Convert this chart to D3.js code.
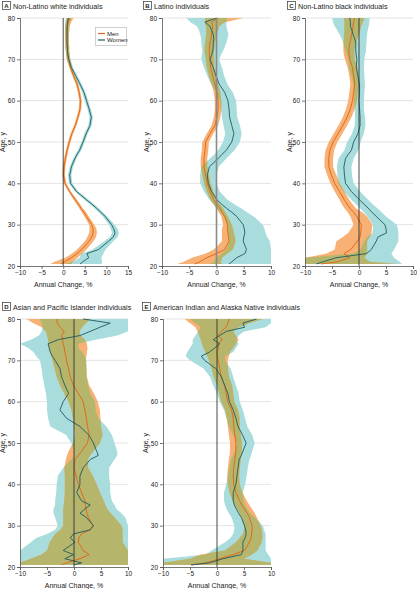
<!DOCTYPE html>
<html><head><meta charset="utf-8">
<script src="https://cdn.jsdelivr.net/npm/d3@7"></script>
<style>
body{margin:0;background:#fff}
svg{display:block}
text{font-family:"Liberation Sans Narrow","Arial Narrow","Liberation Sans",sans-serif;fill:#222}
</style>
</head><body>
<svg id="chart" width="417" height="589"></svg>
<script>
// ---------- DATA ----------
const ages = [20.5,21,22,23,24,26,27,28,29,30,32,33,34,35,36,38,40,42,44,46,47,48,50,52,54,56,58,60,62,64,66,68,70,71,72,73,74,75,76,77,78,79,80];
const yTicks = [20,30,40,50,60,70,80];
const xTicksA = [-10,-5,0,5,10,15];
const xTicksOther = [-10,-5,0,5,10];
const panelLetters = ["A","B","C","D","E"];
const panelTitles = ["Non-Latino white individuals","Latino individuals","Non-Latino black individuals","Asian and Pacific Islander individuals","American Indian and Alaska Native individuals"];
const seriesNames = ["Men","Women"];
const xAxisTitle = "Annual Change, %";
const yAxisTitle = "Age, y";

// Panel A
const aMenMean = [-0.5,0.3,1.9,3.2,4.3,6.0,6.6,6.9,6.9,6.6,5.4,4.8,4.1,3.5,2.8,1.5,0.4,0.1,0.2,0.5,0.7,0.9,1.4,2.0,2.8,3.4,3.9,4.0,3.7,3.2,2.4,1.7,1.2,1.1,1.0,0.95,0.9,0.85,0.85,0.9,1.0,1.2,1.6];
const aMenLo = [-3.0,-2.0,0.5,2.0,3.2,5.0,5.6,6.0,6.1,6.0,4.9,4.3,3.7,3.1,2.4,1.2,0.1,-0.2,-0.1,0.2,0.4,0.6,1.1,1.7,2.5,3.1,3.6,3.7,3.4,2.9,2.1,1.4,0.8,0.7,0.6,0.5,0.5,0.4,0.4,0.4,0.5,0.6,0.8];
const aMenHi = [1.8,2.3,3.3,4.4,5.4,7.0,7.6,7.8,7.7,7.2,5.9,5.3,4.5,3.9,3.2,1.8,0.7,0.4,0.5,0.8,1.0,1.2,1.7,2.3,3.1,3.7,4.2,4.3,4.0,3.5,2.7,2.0,1.6,1.5,1.4,1.4,1.3,1.3,1.3,1.4,1.5,1.8,2.4];
const aWomenMean = [3.9,4.5,5.9,5.5,8.2,10.5,11.6,12.0,11.7,11.2,9.7,8.7,7.7,6.6,5.4,3.1,1.7,1.5,1.9,2.7,3.2,3.8,4.6,5.3,6.2,6.5,6.0,5.4,4.8,3.9,2.9,1.9,1.3,1.1,1.0,0.95,0.9,0.9,0.9,0.9,0.9,1.0,1.2];
const aWomenLo = [0.3,2.2,3.8,4.2,6.8,9.5,10.8,11.3,11.0,10.6,9.2,8.2,7.2,6.1,4.9,2.7,1.3,1.1,1.5,2.3,2.8,3.4,4.2,4.9,5.8,6.1,5.6,5.0,4.4,3.5,2.5,1.5,0.9,0.7,0.6,0.5,0.5,0.5,0.5,0.4,0.4,0.5,0.6];
const aWomenHi = [8.9,9.0,8.8,9.3,9.8,11.6,12.6,12.9,12.6,11.9,10.2,9.2,8.2,7.1,5.9,3.5,2.1,1.9,2.3,3.1,3.6,4.2,5.0,5.7,6.6,6.9,6.4,5.8,5.2,4.3,3.3,2.3,1.7,1.5,1.4,1.4,1.3,1.3,1.3,1.4,1.4,1.5,1.8];

// Panel B
const bMenMean = [-4.0,-3.1,-1.8,0.0,1.5,2.3,2.2,2.1,2.0,2.0,1.5,1.0,0.6,0.0,-0.5,-1.2,-1.7,-2.0,-2.3,-2.3,-2.2,-2.1,-2.0,-1.2,-0.3,0.1,0.3,0.3,0.1,-0.3,-0.7,-1.1,-1.2,-1.3,-1.3,-1.3,-1.2,-1.0,-0.9,-0.8,-0.7,-0.9,0.3];
const bMenLo = [-7.2,-6.0,-4.5,-2.0,-0.5,1.0,1.0,1.0,1.0,1.2,0.9,0.4,0.0,-0.6,-1.1,-1.8,-2.3,-2.6,-2.9,-2.9,-2.8,-2.7,-2.6,-1.8,-0.9,-0.5,-0.3,-0.3,-0.5,-0.9,-1.4,-1.8,-2.0,-2.1,-2.2,-2.2,-2.1,-2.0,-1.9,-1.9,-1.9,-2.2,-2.0];
const bMenHi = [1.0,0.8,1.0,2.0,3.0,3.5,3.4,3.2,3.0,2.8,2.1,1.6,1.2,0.6,0.1,-0.6,-1.1,-1.4,-1.7,-1.7,-1.6,-1.5,-1.4,-0.6,0.3,0.7,0.9,0.9,0.7,0.3,0.0,-0.4,-0.4,-0.5,-0.4,-0.4,-0.3,-0.1,0.1,0.3,0.5,1.5,5.0];
const bWomenMean = [2.3,2.8,3.7,5.2,5.5,4.9,5.0,5.2,5.1,4.9,3.7,2.8,1.8,0.9,0.1,-0.9,-1.5,-1.7,-1.3,0.3,1.0,1.8,2.8,3.2,2.8,2.4,2.3,2.1,1.5,0.5,-0.1,-0.6,-1.2,-0.9,-0.7,-0.6,-0.6,-0.5,-0.6,-0.9,-1.2,-2.1,0.0];
const bWomenLo = [-1.2,-0.5,0.0,1.0,1.8,2.4,2.3,2.2,2.1,2.1,1.3,0.8,0.0,-0.6,-1.3,-2.3,-3.0,-3.0,-2.8,-1.2,-0.4,0.3,1.2,1.6,1.3,1.0,0.8,0.6,0.0,-1.0,-1.7,-2.3,-2.8,-2.7,-2.6,-2.7,-2.8,-2.8,-3.0,-3.2,-3.6,-4.8,-5.5];
const bWomenHi = [10,10,10,10,10,9.8,9.3,9.0,8.8,8.5,6.8,5.6,4.5,3.2,2.0,0.6,0.0,0.0,0.4,1.8,2.5,3.3,4.3,4.6,4.3,3.8,3.7,3.6,3.0,2.0,1.4,1.0,0.5,0.8,1.2,1.5,1.8,2.0,2.2,2.0,1.8,1.8,2.0];

// Panel C
const cMenMean = [-7.0,-4.0,-1.7,-2.8,-1.5,-0.3,0.2,0.3,0.4,0.4,-0.4,-1.0,-1.7,-2.2,-2.7,-3.6,-4.5,-5.1,-5.6,-5.6,-5.5,-5.4,-4.8,-3.9,-3.0,-2.2,-1.6,-1.2,-1.0,-0.8,-1.0,-1.2,-1.7,-1.8,-1.9,-1.8,-1.7,-1.5,-1.4,-1.2,-1.1,-1.0,-0.8];
const cMenLo = [-10,-10,-10,-6.0,-4.5,-4.2,-3.0,-2.0,-1.5,-1.0,-1.6,-2.1,-2.7,-3.2,-3.6,-4.5,-5.3,-5.9,-6.4,-6.4,-6.3,-6.2,-5.6,-4.7,-3.8,-3.0,-2.4,-2.0,-1.8,-1.6,-1.8,-2.1,-2.6,-2.8,-2.9,-2.9,-2.9,-2.8,-2.8,-2.7,-2.7,-2.7,-2.8];
const cMenHi = [7.0,2.0,1.0,1.5,1.5,1.5,2.0,2.3,2.4,2.5,1.5,0.6,-0.6,-1.2,-1.8,-2.7,-3.6,-4.2,-4.8,-4.8,-4.7,-4.6,-4.0,-3.1,-2.2,-1.4,-0.8,-0.4,-0.2,0.0,-0.2,-0.3,-0.8,-0.8,-0.9,-0.7,-0.5,-0.3,0.0,0.2,0.4,0.7,1.0];
const cWomenMean = [-7.9,-6.7,-4.2,1.4,2.3,3.2,3.5,5.1,5.0,4.8,3.2,2.4,1.7,0.9,0.1,-1.4,-2.5,-2.7,-2.8,-2.5,-2.0,-1.4,-1.0,-0.2,0.2,0.2,0.1,0.0,0.1,0.1,-0.2,-0.5,-0.4,-0.5,-0.6,-0.6,-0.6,-0.8,-1.1,-1.3,-1.6,-1.6,-1.7];
const cWomenLo = [-10,-10,-10,-1.0,0.3,1.0,1.5,2.5,2.6,2.6,1.6,0.9,0.2,-0.6,-1.4,-2.8,-3.9,-4.0,-4.1,-3.8,-3.3,-2.7,-2.2,-1.3,-0.8,-0.7,-0.8,-0.9,-0.9,-1.0,-1.4,-1.8,-2.0,-2.2,-2.5,-2.7,-2.9,-3.2,-3.6,-4.0,-4.5,-4.8,-5.0];
const cWomenHi = [8.0,7.5,6.5,6.0,6.5,7.3,7.3,7.3,7.2,7.0,5.0,4.2,3.4,2.5,1.7,0.2,-1.0,-1.3,-1.4,-1.0,-0.6,-0.1,0.3,0.9,1.2,1.1,0.9,0.9,1.0,1.1,1.0,0.9,1.0,1.1,1.3,1.3,1.4,1.4,1.5,1.6,1.8,1.9,2.0];

// Panel D
const dMenMean = [-2.3,-1.4,1.1,2.8,1.7,0.8,0.9,1.4,3.0,3.5,2.7,2.4,2.2,2.1,2.0,1.4,0.8,0.4,0.0,0.2,0.8,1.4,2.5,2.8,2.5,2.3,2.0,1.7,0.8,-0.1,-0.7,-1.0,-1.4,-1.5,-1.7,-1.8,-2.0,-2.1,-2.3,-1.8,-2.6,-3.1,-3.2];
const dMenLo = [-10,-10,-8,-6,-5,-4.5,-4,-3.5,-2.5,-2,-2,-2,-2,-1.9,-1.8,-1.7,-1.7,-1.7,-1.8,-1.5,-1.3,-1.0,-0.2,0.2,0.0,-0.2,-0.5,-1.0,-1.8,-2.6,-3.2,-3.6,-4.0,-4.2,-4.4,-4.6,-4.7,-4.8,-5.0,-5.2,-6.0,-7.5,-8.8];
const dMenHi = [10,10,10,10,10,9,9,9,9,8.8,7.5,6.8,6.2,5.8,5.5,4.8,4.2,3.5,2.6,2.6,3.0,3.6,4.8,5.3,5.0,4.9,4.8,4.4,3.7,2.8,2.4,2.3,2.2,2.3,2.4,2.5,2.4,2.0,1.2,1.0,1.5,2.2,3.0];
const dWomenMean = [0.0,1.4,-1.7,-0.1,-2.0,0.2,-0.7,-0.1,3.0,3.6,2.3,1.1,2.0,3.0,1.4,0.5,1.1,1.1,1.7,3.0,4.5,4.2,3.6,2.7,1.1,-1.4,-2.6,-2.0,-1.0,-1.7,-2.3,-2.6,-3.5,-4.0,-4.4,-4.6,-4.8,-2.9,1.1,3.0,4.8,6.7,1.7];
const dWomenLo = [-10,-10,-10,-10,-10,-8,-7,-5,-3.5,-3,-3.5,-3.8,-3.8,-3.5,-3.5,-3.3,-3.2,-3,-2,-0.5,0,0,-0.5,-1.5,-4.4,-4.8,-5,-5,-5.2,-5.5,-5.8,-6,-6.3,-7,-7.5,-8.5,-10,-8,-6.5,-6,-5.8,-6,-6.3];
const dWomenHi = [10,10,10,10,10,10,10,10,10,10,9.5,8.8,7.9,7.5,7,6.7,6.7,6.5,6.5,7.5,8,8,7.5,7,6,4.5,4.0,3.9,3.0,2.6,2.3,2.3,2.3,2.0,1.5,0.8,0.8,4,8,10,10,10,10];

// Panel E
const eMenMean = [-4.8,-2.0,0.5,3.0,5.1,6.0,6.3,6.4,6.5,6.5,6.0,5.6,5.1,4.6,4.2,3.5,3.1,3.0,3.1,3.3,3.4,3.5,3.5,3.3,3.1,3.0,2.7,2.0,1.7,1.4,0.8,0.5,0.2,0.1,0.0,0.3,0.2,1.0,0.2,0.8,1.7,2.0,2.3];
const eMenLo = [-10,-10,-5,-3,1.5,3.5,4.2,4.8,5.0,5.0,4.6,4.2,3.8,3.3,2.9,2.3,2.0,1.9,2.0,2.2,2.3,2.4,2.4,2.2,2.0,1.8,1.5,0.8,0.4,0.0,-0.6,-1.0,-1.5,-1.8,-2.2,-2.5,-2.8,-3.0,-3.3,-3.6,-4.0,-5.0,-6.0];
const eMenHi = [10,10,5,6.5,7.5,8.3,8.4,8.4,8.3,8.1,7.4,7.0,6.5,6.0,5.5,4.7,4.2,4.1,4.2,4.4,4.5,4.6,4.6,4.4,4.2,4.2,3.9,3.2,3.0,2.8,2.2,2.0,2.0,2.2,2.4,3.0,3.5,4.0,3.5,3.0,4.0,6.0,8.5];
const eWomenMean = [-4.8,-1.4,1.1,4.5,4.8,4.8,5.2,5.4,5.3,5.1,4.5,4.0,3.6,3.2,3.0,3.0,3.5,3.7,3.9,4.1,4.5,4.8,5.4,4.7,3.9,3.5,3.0,2.3,2.0,1.4,0.8,-0.2,-2.3,-2.9,-1.4,-0.4,0.5,-0.7,0.5,1.7,5.1,4.8,7.3];
const eWomenLo = [-10,-10,-10,-2,-1,1.5,2.5,3.0,3.2,3.2,2.7,2.2,1.8,1.5,1.3,1.3,1.7,2.0,2.3,2.6,3.0,3.3,3.7,3.0,2.2,1.8,1.3,0.5,0.0,-0.7,-1.3,-2.5,-5.0,-5.8,-5.5,-5.0,-4.5,-4.5,-4.0,-3.5,-3.0,-4.0,-5.0];
const eWomenHi = [10,10,10,9.5,9,9,9,9,8.7,8.5,7.0,6.2,5.6,5.2,4.9,4.8,5.2,5.5,5.7,6.0,6.3,6.5,7.0,6.5,5.6,5.2,4.8,4.2,4.0,3.5,3.0,2.5,1.5,1.5,3.0,3.5,4.0,3.5,4.0,5.0,9.0,10,10];

// ---------- LAYOUT ----------
const panels = [
  {x0:20, x1:128, y0:18, y1:266, dom:[-10,15], ticks:xTicksA, boxX:2, boxY:1, titleX:13, ageX:5,
   men:[aMenMean,aMenLo,aMenHi], women:[aWomenMean,aWomenLo,aWomenHi], zeroColor:"#333", legend:true},
  {x0:162, x1:271, y0:18, y1:266, dom:[-10,10], ticks:xTicksOther, boxX:143, boxY:1, titleX:154, ageX:149,
   men:[bMenMean,bMenLo,bMenHi], women:[bWomenMean,bWomenLo,bWomenHi], zeroColor:"#8a8a8a"},
  {x0:305, x1:413, y0:18, y1:266, dom:[-10,10], ticks:xTicksOther, boxX:287, boxY:1, titleX:298, ageX:292,
   men:[cMenMean,cMenLo,cMenHi], women:[cWomenMean,cWomenLo,cWomenHi], zeroColor:"#333"},
  {x0:20, x1:128, y0:319, y1:567, dom:[-10,10], ticks:xTicksOther, boxX:2, boxY:302, titleX:13, ageX:5,
   men:[dMenMean,dMenLo,dMenHi], women:[dWomenMean,dWomenLo,dWomenHi], zeroColor:"#333"},
  {x0:163, x1:271, y0:319, y1:567, dom:[-10,10], ticks:xTicksOther, boxX:142, boxY:302, titleX:153, ageX:148,
   men:[eMenMean,eMenLo,eMenHi], women:[eWomenMean,eWomenLo,eWomenHi], zeroColor:"#333"}
];

const colors = {menLine:"#e06a1c", menBand:"#f8b175", womenLine:"#1f5a5d", womenBand:"#a9dcdc", overlap:"#b5b56c"};
const FONT = '"Liberation Sans Narrow","Arial Narrow",sans-serif';

const svg = d3.select("#chart");
const defs = svg.append("defs");

panels.forEach((p, i) => {
  const x = d3.scaleLinear().domain(p.dom).range([p.x0, p.x1]);
  const y = d3.scaleLinear().domain([20, 80]).range([p.y1, p.y0]);
  const g = svg.append("g");
  const mk = arr => ages.map((a, k) => ({a, m: arr[0][k], lo: arr[1][k], hi: arr[2][k]}));
  const women = mk(p.women), men = mk(p.men);
  const area = d3.area().y(d => y(d.a)).x0(d => x(d.lo)).x1(d => x(d.hi));
  const line = d3.line().y(d => y(d.a)).x(d => x(d.m));

  defs.append("clipPath").attr("id", "clip" + i).append("rect")
    .attr("x", p.x0).attr("y", p.y0 - 1).attr("width", p.x1 - p.x0).attr("height", p.y1 - p.y0 + 1);
  defs.append("clipPath").attr("id", "wclip" + i).append("path").datum(women).attr("d", area);

  // gridlines
  g.selectAll("line.grid").data(yTicks.filter(t => t > 20)).join("line")
    .attr("x1", p.x0).attr("x2", p.x1).attr("y1", d => y(d)).attr("y2", d => y(d))
    .attr("stroke", "#dcdcdc").attr("stroke-width", 0.8);

  const plot = g.append("g").attr("clip-path", `url(#clip${i})`);
  plot.append("path").datum(women).attr("d", area).attr("fill", colors.womenBand);
  plot.append("path").datum(men).attr("d", area).attr("fill", colors.menBand);
  plot.append("g").attr("clip-path", `url(#wclip${i})`)
    .append("path").datum(men).attr("d", area).attr("fill", colors.overlap);

  // zero line
  g.append("line").attr("x1", x(0)).attr("x2", x(0)).attr("y1", p.y0).attr("y2", p.y1)
    .attr("stroke", p.zeroColor).attr("stroke-width", p.zeroColor === "#333" ? 0.9 : 1.6);

  plot.append("path").datum(men).attr("d", line).attr("fill", "none").attr("stroke", colors.menLine).attr("stroke-width", 1);
  plot.append("path").datum(women).attr("d", line).attr("fill", "none").attr("stroke", colors.womenLine).attr("stroke-width", 0.9);

  // axes
  const ax = g.append("g").attr("transform", `translate(${p.x0},0)`)
    .call(d3.axisLeft(y).tickValues(yTicks).tickSize(3).tickPadding(2));
  const bx = g.append("g").attr("transform", `translate(0,${p.y1})`)
    .call(d3.axisBottom(x).tickValues(p.ticks).tickSize(3).tickPadding(1));
  [ax, bx].forEach(a => {
    a.selectAll("path.domain").attr("stroke", "#555").attr("stroke-width", 0.8);
    a.selectAll(".tick line").attr("stroke", "#555").attr("stroke-width", 0.8);
    a.selectAll(".tick text").attr("font-size", 6.5).attr("fill", "#222").style("font-family", FONT);
  });

  // axis titles
  g.append("text").attr("x", x(0)).attr("y", p.y1 + 21)
    .attr("text-anchor", "middle").attr("font-size", 7).text(xAxisTitle);
  g.append("text").attr("transform", `translate(${p.ageX},${(p.y0 + p.y1) / 2}) rotate(-90)`)
    .attr("text-anchor", "middle").attr("font-size", 7).text(yAxisTitle);

  // panel title
  g.append("rect").attr("x", p.boxX + 0.5).attr("y", p.boxY + 0.5).attr("width", 8).attr("height", 8)
    .attr("fill", "#fff").attr("stroke", "#333").attr("stroke-width", 0.7);
  g.append("text").attr("x", p.boxX + 4.5).attr("y", p.boxY + 7).attr("text-anchor", "middle")
    .attr("font-size", 6).attr("font-weight", "bold").text(panelLetters[i]);
  g.append("text").attr("x", p.titleX).attr("y", p.boxY + 7.5).attr("font-size", 7.2).text(panelTitles[i]);

  if (p.legend) {
    const lg = g.append("g");
    lg.append("rect").attr("x", 95.5).attr("y", 27.5).attr("width", 31).attr("height", 18)
      .attr("fill", "#fff").attr("stroke", "#bdbdbd").attr("stroke-width", 0.7);
    const lc = [colors.menLine, colors.womenLine];
    seriesNames.forEach((s, k) => {
      const yy = 33.5 + k * 6.5;
      lg.append("line").attr("x1", 98).attr("x2", 105).attr("y1", yy).attr("y2", yy)
        .attr("stroke", lc[k]).attr("stroke-width", 1.2);
      lg.append("text").attr("x", 107).attr("y", yy + 2).attr("font-size", 6).text(s);
    });
  }
});
</script>
</body></html>
